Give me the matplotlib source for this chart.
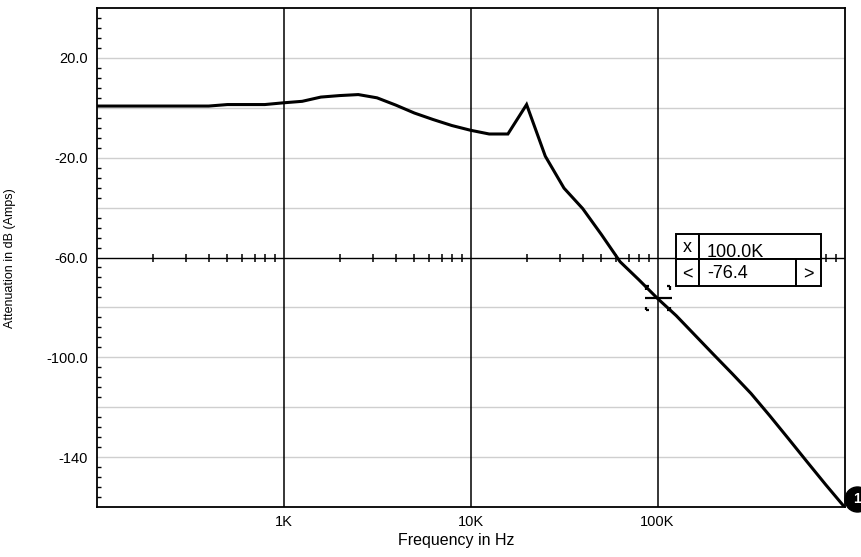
import numpy as np
import matplotlib
matplotlib.use("Agg")
import matplotlib.pyplot as plt
from matplotlib.patches import Rectangle
from matplotlib.path import Path
from matplotlib.markers import MarkerStyle
import matplotlib.transforms as mtransforms

plt.rcParams['font.family'] = ['Liberation Sans', 'DejaVu Sans']

# response sampled every 0.1 decade from 100 Hz to 1 MHz
freq_hz = 10 ** (2 + np.arange(41) / 10)
atten_db = [0.7, 0.7, 0.7, 0.7, 0.7, 0.7, 0.7, 1.3, 1.3, 1.3,
            2.0, 2.6, 4.3, 4.9, 5.3, 4.0, 1.1, -2.1, -4.7, -7.1,
            -9.0, -10.5, -10.5, 1.3, -19.4, -32.2, -40.4, -50.8, -61.7, -68.9,
            -76.4, -83.3, -91.1, -98.9, -106.6, -114.5, -123.4, -132.6, -141.9, -151.1,
            -160.0]

ytick_vals = [20, -20, -60, -100, -140]
ytick_labels = ['20.0', '-20.0', '-60.0', '-100.0', '-140']
xtick_vals = [1e3, 1e4, 1e5]
xtick_labels = ['1K', '10K', '100K']
cursor_idx = 30

W, H = 861, 557
fig = plt.figure(figsize=(W / 100, H / 100), dpi=100)
L, R, T, B = 96.5, 844.5, 8, 507
ax = fig.add_axes([L / W, 1 - B / H, (R - L) / W, (B - T) / H])

ax.set_xscale('log')
ax.set_xlim(100, 1e6)
ax.set_ylim(-160, 40)

# grid: light gray every 20 dB, black reference line at -60 dB
for y in range(20, -160, -20):
    if y == -60:
        ax.axhline(y, color='black', lw=1.0, zorder=2)
    else:
        ax.axhline(y, color='#cfcfcf', lw=1.0, zorder=1)
for x in xtick_vals:
    ax.axvline(x, color='black', lw=1.1, zorder=2)

# log minor ticks riding on the -60 dB line
minor_f = [m * d for d in (1e2, 1e3, 1e4, 1e5) for m in range(2, 10)]
ax.plot(minor_f, [-60] * len(minor_f), ls='none', marker='|', ms=5.5,
        mew=1.1, color='black', zorder=2)

ax.plot(freq_hz, atten_db, color='black', lw=2.2, zorder=3,
        solid_joinstyle='miter')

ax.set_yticks(ytick_vals)
ax.set_yticklabels(ytick_labels)
ax.set_yticks([v for v in range(36, -160, -4) if v % 20 != 0], minor=True)
ax.set_xticks(xtick_vals)
ax.set_xticklabels(xtick_labels)
ax.xaxis.set_minor_locator(matplotlib.ticker.NullLocator())
ax.tick_params(axis='both', which='major', length=0, labelsize=10.5, pad=6)
ax.tick_params(axis='y', which='minor', direction='in', length=3, width=1)
for s in ax.spines.values():
    s.set_linewidth(1.3)

fig.text(456 / W, 1 - 540 / H, 'Frequency in Hz', fontsize=11.5,
         ha='center', va='center')
fig.text(10 / W, 1 - 258 / H, 'Attenuation in dB (Amps)', fontsize=9,
         rotation=90, ha='center', va='center')

# cursor crosshair with bracket corners
verts, codes = [], []
def seg(p, q):
    verts.extend([p, q])
    codes.extend([Path.MOVETO, Path.LINETO])
seg((-13, 0), (14, 0))
for sx in (-1, 1):
    for sy in (-1, 1):
        cx, cy = 12 * sx, 12 * sy
        seg((cx, cy), (cx, cy - 3.5 * sy))
        seg((cx, cy), (cx - 3 * sx, cy))
cross = MarkerStyle(Path(verts, codes))
cx_f, cy_db = freq_hz[cursor_idx], atten_db[cursor_idx]
ax.plot([cx_f], [cy_db], marker=cross, ms=28 * 0.72, mew=1.6,
        color='black', zorder=4)

# cursor readout box
def px(x, y):
    return x / W, 1 - y / H
bx0, bx1, bxa, bxb = 676, 821, 699, 796
by0, by1, by2 = 234, 259, 285.5
cells = [(bx0, by0, bxa, by1), (bxa, by0, bx1, by1),
         (bx0, by1, bxa, by2), (bxa, by1, bxb, by2), (bxb, by1, bx1, by2)]
for x0, y0, x1, y1 in cells:
    fig.add_artist(Rectangle(px(x0, y1), (x1 - x0) / W, (y1 - y0) / H,
                             transform=fig.transFigure, facecolor='white',
                             edgecolor='black', lw=1.4, zorder=5))
fs_box = 13
fig.text(*px(687.5, 252), 'x', fontsize=fs_box, ha='center', va='baseline', zorder=6)
fig.text(*px(707, 257), f'{cx_f / 1000:.1f}K', fontsize=fs_box,
         ha='left', va='baseline', zorder=6)
fig.text(*px(687.5, 279), '<', fontsize=fs_box, ha='center', va='baseline', zorder=6)
fig.text(*px(707, 278), f'{cy_db:.1f}', fontsize=fs_box,
         ha='left', va='baseline', zorder=6)
fig.text(*px(808.5, 279), '>', fontsize=fs_box, ha='center', va='baseline', zorder=6)

# trace number badge at the end of the curve
off = mtransforms.offset_copy(ax.transData, fig=fig, x=12, y=8, units='dots')
ax.plot([freq_hz[-1]], [atten_db[-1]], marker='o', ms=18, color='black',
        transform=off, clip_on=False, zorder=6)
ax.text(freq_hz[-1], atten_db[-1], '1', transform=off, color='white',
        fontsize=10, fontweight='bold', ha='center', va='center',
        clip_on=False, zorder=7)

fig.savefig('out.png', dpi=100)
